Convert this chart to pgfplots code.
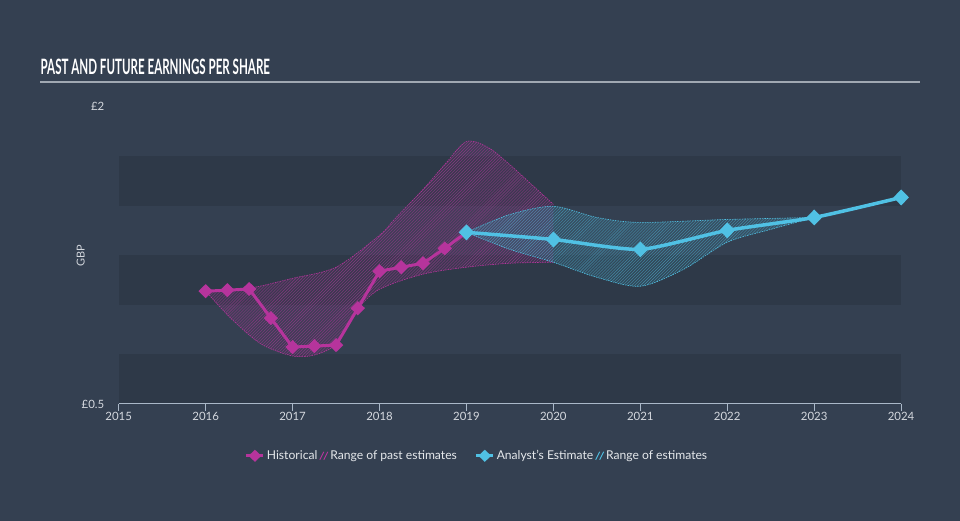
\documentclass[border=0pt]{standalone}
\usepackage{graphicx}
\usepackage{xcolor}
\usepackage{fontspec}
\setmainfont{Lato}
\usepackage{pgfplots}
\pgfplotsset{compat=1.18}
\usepgfplotslibrary{fillbetween}
\usetikzlibrary{patterns}
\definecolor{bgcol}{RGB}{52,64,81}
\definecolor{bandcol}{RGB}{46,57,72}
\definecolor{histcol}{RGB}{182,52,156}
\definecolor{estcol}{RGB}{80,193,228}
\definecolor{txtcol}{RGB}{212,216,222}
\definecolor{axcol}{RGB}{170,184,200}
\definecolor{rulecol}{RGB}{160,168,178}

\begin{document}
\pagecolor{bgcol}
\begin{tikzpicture}
\path (0,0) rectangle (960bp,522bp);
\node[anchor=south west,inner sep=0,text=white] at (38bp,447bp)
  {\resizebox{230bp}{15.5bp}{\bfseries PAST AND FUTURE EARNINGS PER SHARE}};
\draw[rulecol,line width=1.5bp] (38bp,440bp) -- (920bp,440bp);
\begin{axis}[set layers,at={(116.5bp,117bp)},anchor=south west,scale only axis,
  width=784.5bp,height=298bp,xmin=2015,xmax=2024,ymin=0.5,ymax=2,
  axis x line*=bottom,axis y line*=left,
  x axis line style={axcol,line width=1bp,-},
  y axis line style={draw=none},
  xtick={2015,...,2024},ytick={0.5,2},yticklabels={£0.5,£2},
  x tick label style={/pgf/number format/1000 sep={},yshift=2bp},
  /pgf/number format/assume math mode=true,
  tick align=outside,major tick length=7bp,
  x tick style={axcol,line width=1bp},y tick style={draw=none},
  y tick label style={xshift=-4bp},
  tick label style={font=\fontsize{11.5}{12}\selectfont,text=txtcol},
  ylabel={GBP},ylabel style={at={(axis description cs:-0.0485,0.5)},
    anchor=center,font=\fontsize{11}{12}\selectfont,text=txtcol},
  legend style={at={(0.458,-0.1745)},anchor=center,draw=none,fill=none,
    legend columns=4,font=\fontsize{12.2}{13}\selectfont,text=txtcol!60!white}]
% bands
\addplot[draw=none,fill=bandcol,forget plot,on layer=axis background] coordinates {(2015,1.5) (2024,1.5) (2024,1.75) (2015,1.75)} -- cycle;
\addplot[draw=none,fill=bandcol,forget plot,on layer=axis background] coordinates {(2015,1.0) (2024,1.0) (2024,1.25) (2015,1.25)} -- cycle;
\addplot[draw=none,fill=bandcol,forget plot,on layer=axis background] coordinates {(2015,0.5) (2024,0.5) (2024,0.75) (2015,0.75)} -- cycle;
% range of past estimates
\addplot[name path=pu,histcol,line width=0.6bp,dash pattern=on 1.5bp off 1bp,smooth,forget plot] coordinates {
 (2016,1.069) (2016.5,1.084) (2017,1.134) (2017.5,1.190) (2018,1.351) (2018.17,1.431)
 (2018.5,1.582) (2018.75,1.708) (2019,1.824) (2019.25,1.794) (2019.5,1.707)
 (2019.75,1.607) (2020,1.507)};
\addplot[name path=pl,histcol,line width=0.6bp,dash pattern=on 1.5bp off 1bp,smooth,forget plot] coordinates {
 (2016,1.069) (2016.3,0.928) (2016.64,0.802) (2017,0.742) (2017.25,0.747) (2017.5,0.802)
 (2017.75,0.978) (2018,1.079) (2018.5,1.155) (2019,1.190) (2019.5,1.210) (2020,1.215)};
\addplot[fill=histcol,fill opacity=0.1,draw=none,forget plot] fill between[of=pu and pl];
\addplot[pattern=north east lines,pattern color=histcol!65!bgcol,draw=none,forget plot] fill between[of=pu and pl];
% range of estimates
\addplot[name path=fu,estcol,line width=0.6bp,dash pattern=on 1.5bp off 1bp,smooth,forget plot] coordinates {
 (2019,1.366) (2019.5,1.456) (2020,1.497) (2020.5,1.441) (2021,1.416) (2022,1.431) (2023,1.441)};
\addplot[name path=fl,estcol,line width=0.6bp,dash pattern=on 1.5bp off 1bp,smooth,forget plot] coordinates {
 (2019,1.366) (2019.5,1.280) (2020,1.215) (2020.5,1.139) (2021,1.094) (2021.5,1.180)
 (2022,1.316) (2022.5,1.381) (2023,1.441)};
\addplot[fill=estcol,fill opacity=0.12,draw=none,forget plot] fill between[of=fu and fl];
\addplot[pattern=north east lines,pattern color=estcol!60!bgcol,draw=none,forget plot] fill between[of=fu and fl];
% historical
\addplot[histcol,line width=3bp,mark=diamond*,mark size=5bp,mark options={xscale=1.35,solid},forget plot] coordinates {
 (2016,1.069) (2016.25,1.074) (2016.5,1.080) (2016.75,0.933) (2017,0.787) (2017.25,0.792)
 (2017.5,0.797) (2017.75,0.983) (2018,1.170) (2018.25,1.190) (2018.5,1.210) (2018.75,1.285)
 (2019,1.366)};
% analyst estimate
\addplot[estcol,line width=3.5bp,smooth,tension=0.35,mark=diamond*,mark size=5.5bp,mark options={xscale=1.3,solid},forget plot] coordinates {
 (2019,1.366) (2020,1.330) (2021,1.280) (2022,1.376) (2023,1.441) (2024,1.542)};
% legend
\addlegendimage{histcol,line width=3bp,mark=diamond*,mark size=4bp,mark options={xscale=1.4}}
\addlegendentry{Historical}
\addlegendimage{legend image code/.code={\draw[histcol,line width=0.9bp] (2bp,-4bp) -- (6bp,4bp) (6bp,-4bp) -- (10bp,4bp);}}
\addlegendentry{Range of past estimates\rule{16bp}{0pt}}
\addlegendimage{estcol,line width=3bp,mark=diamond*,mark size=4bp,mark options={xscale=1.4}}
\addlegendentry{Analyst's Estimate}
\addlegendimage{legend image code/.code={\draw[estcol,line width=0.9bp] (2bp,-4bp) -- (6bp,4bp) (6bp,-4bp) -- (10bp,4bp);}}
\addlegendentry{Range of estimates}
\end{axis}
\end{tikzpicture}
\end{document}
